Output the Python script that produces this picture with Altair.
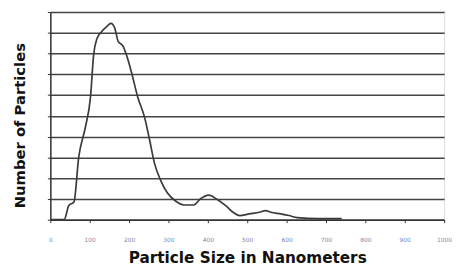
import altair as alt
import pandas as pd

size_nm = [0, 35, 47, 60, 72, 89, 102, 110, 118, 130, 143, 154, 164, 172, 185, 193, 206, 222, 239, 252, 264, 281, 297, 318, 339, 364, 381, 402, 422, 447, 464, 481, 505, 531, 547, 560, 585, 606, 627, 680, 740]
count = [0, 0, 0.68, 0.85, 3.0, 4.45, 5.9, 7.95, 8.7, 9.05, 9.3, 9.45, 9.2, 8.6, 8.35, 7.95, 7.1, 5.9, 4.95, 3.85, 2.75, 1.86, 1.3, 0.9, 0.71, 0.71, 1.0, 1.18, 1.0, 0.65, 0.36, 0.2, 0.28, 0.36, 0.44, 0.36, 0.28, 0.2, 0.1, 0.05, 0.05]
x_ticks = list(range(0, 1001, 100))
y_ticks = list(range(0, 11))

df = pd.DataFrame({"size": size_nm, "count": count})

line = alt.Chart(df).mark_line(color="#3a3a3a", strokeWidth=1.7, interpolate="monotone").encode(
    x=alt.X("size:Q", scale=alt.Scale(domain=[0, 1000], nice=False),
            axis=alt.Axis(values=x_ticks, format="d", title="Particle Size in Nanometers",
                          grid=False, tickSize=3, tickColor="#333", domainColor="#333",
                          domainWidth=1.5, labelFontSize=6, labelColor="#7a84b0",
                          labelPadding=14, labelFont="DejaVu Sans", labelOverlap=False,
                          labelFlush=False,
                          titleFont="DejaVu Sans", titleFontSize=15.5, titleFontWeight="bold",
                          titleColor="#111", titleBaseline="middle", titleY=38)),
    y=alt.Y("count:Q", scale=alt.Scale(domain=[0, 10], nice=False),
            axis=alt.Axis(values=y_ticks, labels=False, title="Number of Particles",
                          grid=True, gridColor="#444", gridWidth=1.5, gridOpacity=1,
                          tickSize=3, tickColor="#333", domainColor="#333", domainWidth=1.5,
                          titleFont="DejaVu Sans", titleFontSize=15, titleFontWeight="bold",
                          titleColor="#111", titleAngle=-90, titleBaseline="middle",
                          titleAlign="center", titleX=-31, titleY=115)),
)

chart = line.properties(
    width=400, height=211,
    autosize=alt.AutoSizeParams(type="none"),
    padding={"left": 43, "top": 2, "right": 8, "bottom": 47},
).configure_view(stroke=None).configure(background="white")

chart.save("out.html", embed_options={"renderer": "svg", "actions": False})
